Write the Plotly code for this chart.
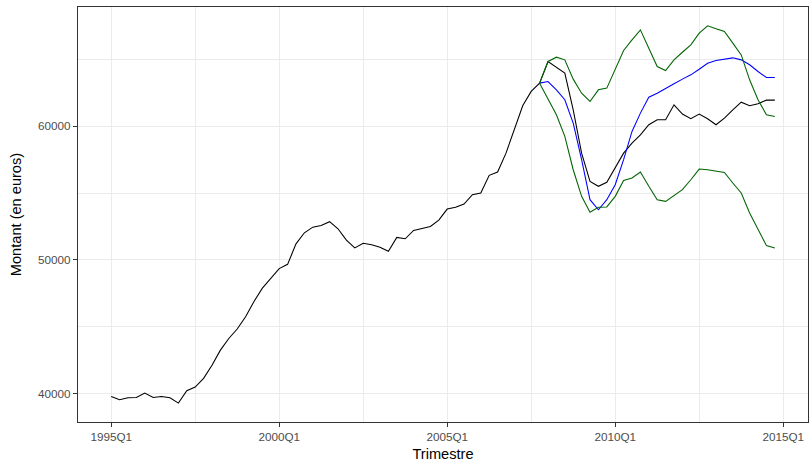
import plotly.graph_objects as go

# Quarterly series 1995Q1 .. 2014Q4 (80 quarters)
start_year = 1995
observed = [
    39800, 39550, 39700, 39720, 40050, 39720, 39800, 39700, 39300, 40230,
    40500, 41150, 42130, 43260, 44130, 44840, 45760, 46890, 47890, 48600,
    49350, 49670, 51200, 52030, 52450, 52580, 52860, 52330, 51480, 50900,
    51250, 51130, 50950, 50650, 51680, 51580, 52200, 52350, 52500, 52980,
    53800, 53930, 54180, 54870, 55000, 56320, 56570, 57980, 59730, 61540,
    62590, 63210, 64830, 64380, 63960, 61220, 57980, 55870, 55500, 55800,
    56870, 57980, 58730, 59350, 60100, 60470, 60470, 61590, 60900, 60550,
    60900, 60550, 60100, 60600, 61220, 61790, 61520, 61670, 61940, 61940,
]

# Forecast from 2007Q4 (index 51) to 2014Q4
fc_start = 51
forecast = [
    63210, 63330, 62710, 61970, 60220, 57490, 54500, 53750, 54500, 55620,
    57490, 59600, 60970, 62160, 62460, 62840, 63160, 63510, 63830, 64250,
    64700, 64900, 65000, 65100, 64950, 64580, 64080, 63630, 63630,
]
upper = [
    63210, 64830, 65150, 64950, 63510, 62460, 61840, 62710, 62840, 64200,
    65650, 66440, 67190, 65820, 64450, 64150, 64950, 65520, 66070, 66940,
    67490, 67270, 67070, 66200, 65320, 63460, 61970, 60850, 60720,
]
lower = [
    63210, 61970, 60850, 59230, 56740, 54750, 53560, 53930, 53960, 54750,
    55940, 56120, 56570, 55500, 54500, 54380, 54820, 55250, 55990, 56790,
    56740, 56620, 56540, 55750, 55000, 53510, 52260, 51070, 50890,
]

x_ticks = [1995, 2000, 2005, 2010, 2015]
x_tick_labels = ["1995Q1", "2000Q1", "2005Q1", "2010Q1", "2015Q1"]
y_ticks = [40000, 50000, 60000]
y_tick_labels = ["40000", "50000", "60000"]

x_obs = [start_year + i / 4 for i in range(len(observed))]
x_fc = [start_year + (fc_start + i) / 4 for i in range(len(forecast))]

fig = go.Figure()
line_w = 1.07
fig.add_trace(go.Scatter(x=x_obs, y=observed, mode="lines",
                         line=dict(color="black", width=line_w), showlegend=False))
fig.add_trace(go.Scatter(x=x_fc, y=forecast, mode="lines",
                         line=dict(color="blue", width=line_w), showlegend=False))
fig.add_trace(go.Scatter(x=x_fc, y=upper, mode="lines",
                         line=dict(color="darkgreen", width=line_w), showlegend=False))
fig.add_trace(go.Scatter(x=x_fc, y=lower, mode="lines",
                         line=dict(color="darkgreen", width=line_w), showlegend=False))

all_y = observed + forecast + upper + lower
ymin, ymax = min(all_y), max(all_y)
yexp = (ymax - ymin) * 0.05
xmin, xmax = min(x_obs), max(x_obs)
xexp = (xmax - xmin) * 0.05

font_family = "Liberation Sans, Arial, sans-serif"
fig.update_layout(
    width=810, height=464,
    margin=dict(l=78, r=2, t=7, b=42, autoexpand=False),
    paper_bgcolor="white", plot_bgcolor="white",
    font=dict(family=font_family, color="black"),
    xaxis=dict(
        range=[xmin - xexp, xmax + xexp],
        tickvals=x_ticks, ticktext=x_tick_labels,
        tickfont=dict(size=11.7, color="#4D4D4D"),
        ticks="outside", ticklen=4, tickwidth=1.07, tickcolor="#333333",
        showgrid=True, gridcolor="#EBEBEB", gridwidth=1.07,
        minor=dict(showgrid=True, gridcolor="#EBEBEB", gridwidth=0.53,
                   tick0=1997.5, dtick=5, ticks=""),
        showline=True, linecolor="#333333", linewidth=1.07, mirror=True,
        zeroline=False, automargin=False,
        title=dict(text="Trimestre", font=dict(size=14.6, color="black"), standoff=6),
    ),
    yaxis=dict(
        range=[ymin - yexp, ymax + yexp],
        tickvals=y_ticks, ticktext=y_tick_labels,
        tickfont=dict(size=11.7, color="#4D4D4D"),
        ticks="outside", ticklen=4, tickwidth=1.07, tickcolor="#333333",
        showgrid=True, gridcolor="#EBEBEB", gridwidth=1.07,
        minor=dict(showgrid=True, gridcolor="#EBEBEB", gridwidth=0.53,
                   tick0=45000, dtick=10000, ticks=""),
        showline=True, linecolor="#333333", linewidth=1.07, mirror=True,
        zeroline=False, automargin=False,
        title=dict(text="Montant (en euros)", font=dict(size=14.6, color="black"), standoff=12),
    ),
)

fig.write_html("out.html", config={"displayModeBar": False},
               post_script="document.body.style.margin='0';")
